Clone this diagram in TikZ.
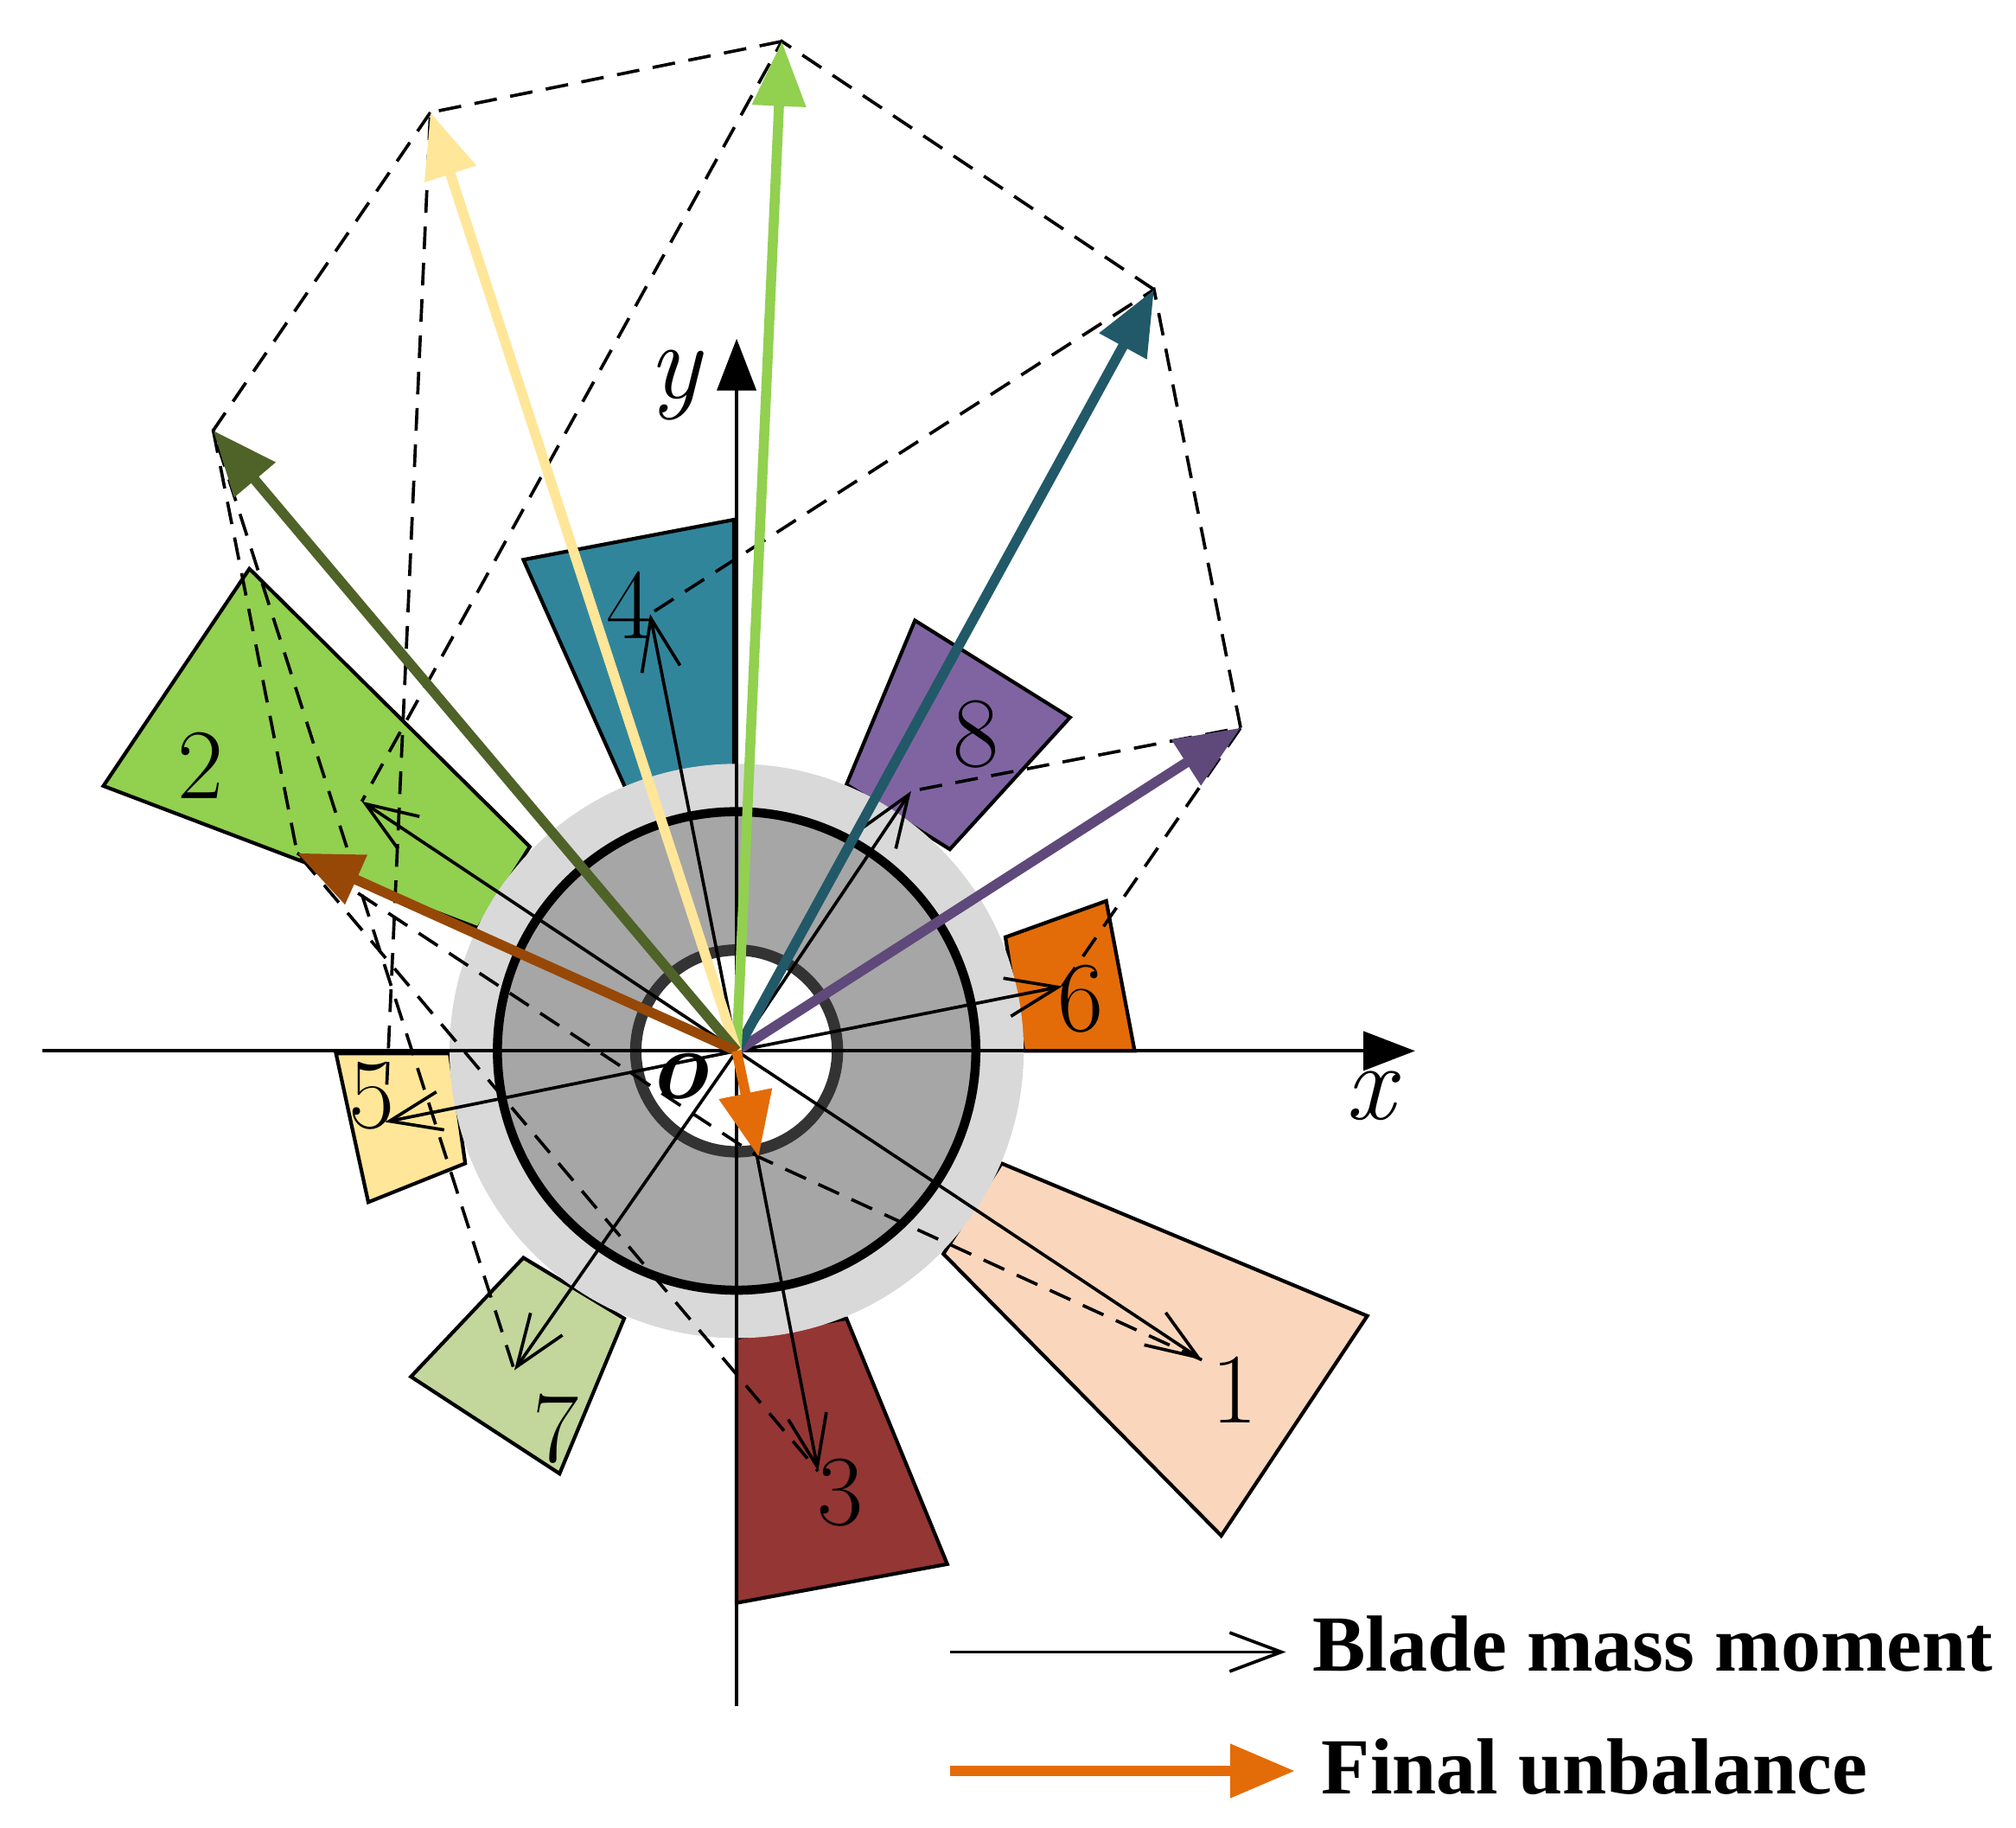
\documentclass[tikz,border=0pt]{standalone}
\usepackage{fontspec}
\newfontfamily\legendfont{Liberation Serif}
\usetikzlibrary{arrows.meta}
\definecolor{bladeA}{HTML}{FAD7BC}
\definecolor{bladeB}{HTML}{92D050}
\definecolor{bladeC}{HTML}{943634}
\definecolor{bladeD}{HTML}{31859B}
\definecolor{bladeE}{HTML}{FFE699}
\definecolor{bladeF}{HTML}{E36C09}
\definecolor{bladeG}{HTML}{C3D69B}
\definecolor{bladeH}{HTML}{8064A2}
\definecolor{sumB}{HTML}{974806}
\definecolor{sumO}{HTML}{4F6228}
\definecolor{sumT}{HTML}{215968}
\definecolor{sumP}{HTML}{5F497A}
\tikzset{
  blade/.style={draw=black, line width=0.8pt},
  moment/.style={-{Straight Barb[length=4mm,width=3mm]}, line width=0.7pt},
  total/.style={-{Triangle[length=5mm,width=4mm]}, line width=2.2pt},
  build/.style={dashed, dash pattern=on 5pt off 3pt, line width=0.7pt},
  num/.style={font=\fontsize{22}{24}\selectfont},
  legend/.style={anchor=west, inner sep=0pt, font=\fontsize{17.5}{21}\selectfont\legendfont\bfseries}
}
\begin{document}
\begin{tikzpicture}[x=0.01cm,y=-0.01cm]
  \useasboundingbox (0,0) rectangle (1560,1414);
  % blades
  \fill[bladeA, blade] (775,900) -- (1058,1018) -- (945,1188) -- (730,970) -- cycle;
  \fill[bladeB, blade] (80,608) -- (193,440) -- (410,655) -- (370,718) -- cycle;
  \fill[bladeC, blade] (570,1035) -- (655,1020) -- (733,1210) -- (570,1240) -- cycle;
  \fill[bladeD, blade] (405,433) -- (568,402) -- (568,595) -- (485,612) -- cycle;
  \fill[bladeE, blade] (260,815) -- (348,815) -- (360,900) -- (285,930) -- cycle;
  \fill[bladeF, blade] (778,725) -- (856,697) -- (878,813) -- (792,813) -- cycle;
  \fill[bladeG, blade] (318,1065) -- (405,973) -- (483,1020) -- (433,1140) -- cycle;
  \fill[bladeH, blade] (655,607) -- (708,480) -- (828,555) -- (735,657) -- cycle;
  % disc
  \coordinate (o) at (570,813);
  \fill[black!15] (o) circle (2.22cm);
  \draw[fill=black!35, line width=2pt] (o) circle (1.85cm);
  \draw[fill=white, line width=2.5pt, draw=black!80] (o) circle (0.78cm);
  % axes
  \draw[-{Triangle[length=4mm,width=3mm]}, line width=0.8pt] (33,813) -- (1095,813) coordinate (xend);
  \draw[-{Triangle[length=4mm,width=3mm]}, line width=0.8pt] (570,1320) -- (570,262) coordinate (yend);
  \node[num, font=\fontsize{24}{26}\selectfont\itshape] (xl) at (1060,848) {x};
  \node[num, font=\fontsize{24}{26}\selectfont\itshape] (yl) at (522,298) {y};
  \node[num, font=\fontsize{22}{24}\selectfont\itshape\bfseries] (ol) at (525,833) {o};
  % blade moments
  \coordinate (m1) at (930,1052);
  \coordinate (m2) at (280,620);
  \coordinate (m3) at (633,1138);
  \coordinate (m4) at (503,475);
  \coordinate (m5) at (298,868);
  \coordinate (m6) at (822,763);
  \coordinate (m7) at (398,1060);
  \coordinate (m8) at (705,612);
  % partial sums
  \coordinate (s8) at (960,563);
  \coordinate (s4) at (893,224);
  \coordinate (s2) at (605,32);
  \coordinate (s5) at (333,87);
  \coordinate (s7) at (165,333);
  \coordinate (s3) at (230,660);
  \coordinate (s1) at (587,895);
  % construction lines
  \draw[build] (m6) -- (s8) -- (m8);
  \draw[build] (s8) -- (s4) -- (m4);
  \draw[build] (s4) -- (s2) -- (m2);
  \draw[build] (s2) -- (s5) -- (m5);
  \draw[build] (s5) -- (s7) -- (m7);
  \draw[build] (s7) -- (s3) -- (m3);
  \draw[build] (s3) -- (s1) -- (m1);
  \foreach \k in {1,...,8}
    \draw[moment] (o) -- (m\k);
  \draw[total, sumP] (o) -- (s8);
  \draw[total, sumT] (o) -- (s4);
  \draw[total, bladeB] (o) -- (s2);
  \draw[total, bladeE] (o) -- (s5);
  \draw[total, sumO] (o) -- (s7);
  \draw[total, sumB] (o) -- (s3);
  \draw[total, bladeF] (o) -- (s1);
  % blade numbers
  \node[num] (n1) at (955,1075) {1};
  \node[num] (n2) at (155,592) {2};
  \node[num] (n3) at (650,1155) {3};
  \node[num] (n4) at (487,468) {4};
  \node[num] (n5) at (288,848) {5};
  \node[num] (n6) at (836,773) {6};
  \node[num] (n7) at (430,1105) {7};
  \node[num] (n8) at (755,568) {8};
  % legend
  \node[legend] (lgA) at (1015,1272) {Blade mass moment};
  \node[legend] (lgB) at (1022,1367) {Final unbalance};
  \coordinate (lgA0) at (735,1278);
  \coordinate (lgB0) at (735,1370);
  \draw[moment] (lgA0) -- ([xshift=-2mm]lgA.west |- lgA0);
  \draw[total, bladeF] (lgB0) -- ([xshift=-2mm]lgB.west |- lgB0);
\end{tikzpicture}
\end{document}
